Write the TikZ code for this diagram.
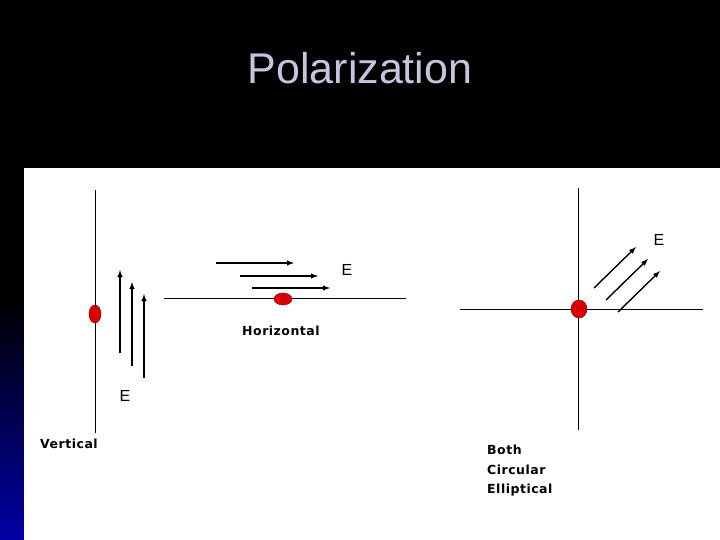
\documentclass[tikz,border=0pt]{standalone}
\usepackage{fontspec}
\setmainfont{Liberation Sans}
\newfontfamily\lblfont[LetterSpace=4]{DejaVu Sans}
\definecolor{titlec}{RGB}{196,198,222}
\begin{document}
\begin{tikzpicture}[x=1pt,y=-1pt,
  ax/.style={line width=0.8pt,black},
  arr/.style={line width=1.4pt,-latex},
  dot/.style={fill=red!85!black,draw=red!60!black,line width=0.5pt},
  lbl/.style={font=\lblfont\bfseries\fontsize{12.5}{14}\selectfont,anchor=west,inner sep=0pt},
  etxt/.style={font=\fontsize{16}{18}\selectfont,inner sep=0pt}]
\useasboundingbox (0,0) rectangle (720,540);
\fill[black] (0,0) rectangle (720,540);
\shade[top color=black,bottom color=blue!65!black] (0,300) rectangle (24,540);
\fill[white] (24,168) rectangle (720,540);
\node[text=titlec,font=\fontsize{43}{48}\selectfont] (title) at (360,68) {Polarization};
% vertical
\draw[ax] (95,190) -- (95,433);
\fill[dot] (95,314) ellipse (6 and 9);
\draw[arr] (120,353) -- (120,270);
\draw[arr] (132,366) -- (132,282);
\draw[arr] (144,378) -- (144,294);
\node[etxt] (e1) at (125,396) {E};
\node[lbl] (v) at (40,444) {Vertical};
% horizontal
\draw[ax] (164,298) -- (406,298);
\fill[dot] (283,299) ellipse (9 and 6);
\draw[arr] (216,263) -- (294,263);
\draw[arr] (240,276) -- (318,276);
\draw[arr] (252,288) -- (330,288);
\node[etxt] (e2) at (347,270) {E};
\node[lbl] (h) at (242,331) {Horizontal};
% both
\draw[ax] (578,188) -- (578,430);
\draw[ax] (460,309) -- (703,309);
\fill[dot] (579,309) ellipse (8 and 9);
\draw[arr] (594,288) -- (636,247);
\draw[arr] (606,300) -- (648,259);
\draw[arr] (618,312) -- (660,271);
\node[etxt] (e3) at (659,240) {E};
\node[lbl] (b1) at (487,450) {Both};
\node[lbl] (b2) at (487,470) {Circular};
\node[lbl] (b3) at (487,490) {Elliptical};
\end{tikzpicture}
\end{document}
